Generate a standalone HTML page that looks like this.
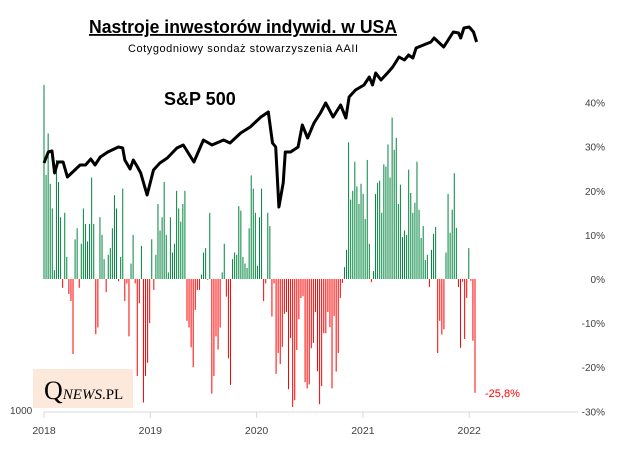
<!DOCTYPE html>
<html><head><meta charset="utf-8"><style>
body{margin:0;background:#fff;width:619px;height:446px;overflow:hidden;font-family:"Liberation Sans",sans-serif}
</style></head><body>
<svg width="619" height="446" xmlns="http://www.w3.org/2000/svg">
<text x="243" y="33" text-anchor="middle" font-size="18" font-weight="bold" textLength="308" lengthAdjust="spacingAndGlyphs" text-decoration="underline">Nastroje inwestorów indywid. w USA</text>
<text x="243" y="52" text-anchor="middle" font-size="11" textLength="230">Cotygodniowy  sondaż stowarzyszenia AAII</text>
<text x="164" y="105" font-size="18" font-weight="bold">S&amp;P 500</text>
<rect x="33" y="369" width="100" height="39" fill="#fde9dc"/>
<text x="44" y="399" font-family="Liberation Serif,serif"><tspan font-size="26">Q</tspan><tspan font-size="15" font-style="italic">NEWS</tspan><tspan font-size="15">.PL</tspan></text>
<text x="10" y="414" font-size="10" fill="#404040">1000</text>
<g id="bars"></g>
<g id="axes"></g>
<polyline id="sp" fill="none" stroke="#000" stroke-width="3" stroke-linejoin="round"/>
</svg>
<script>
const spread=[44,23.6,33,21.6,16,2,27,22,14,-2,15,5,-3.4,-5,-17,9,11.5,-2,8,16,12.5,8.5,12.5,23,12.5,-12.5,-11,14,10,4.5,-3,5.5,7,11.5,19,16,-0.5,5,20.5,-5,-1,-13,3.5,10,-1,-22,-5.5,7.5,-28,-22,-19,-10,9,-2.5,5.5,17,11,14,22,10,1.5,14,6,8,20,16,13,17,20,-9.5,-11,-15.5,-20,-7,-2.5,-2.5,1,6,7,-0.2,15,-26,-22,-13,-16,-11,1.5,8,-4,-18,-24,4.5,6,5.5,16.5,15.5,5,3.5,2.5,11.5,23.5,20.5,15,3,14,20.5,-5,-1,15,
12,-8.5,-1,-21.5,-16.8,-19.3,-15.4,-7.9,-7.5,-25,-13.4,-29,-27.5,-16.1,-9.1,-4.3,-3.9,-23.4,-24.8,-23.9,-15.7,-14.5,-7.5,-20.9,-28.4,-24.3,-12.3,-12.3,-7.5,-10.9,-24.8,-8.4,-21,-16.8,-4.3,-0.9,2.7,6.6,31,18,20,26.6,21,17,21.6,19.3,13.6,27,8,-0.7,1.8,19.3,21.8,22.3,15,26,25.5,30.5,23,36.6,29.3,32,17,21.4,9.5,11,10,24.8,19.5,15,17.3,26.6,15.7,9.3,12,4.3,5.5,-1.8,6.6,10.2,11.8,-16.8,-9.5,-12.6,-11.4,6,19.3,10.5,15.7,24,11.6,-1.8,-15.6,-0.6,-13.6,-4.3,7,-0.4,-14,-25.8];
const spDates=[2018,2018.04,2018.075,2018.10,2018.13,2018.18,2018.22,2018.27,2018.34,2018.39,2018.44,2018.48,2018.53,2018.60,2018.70,2018.74,2018.76,2018.81,2018.84,2018.88,2018.91,2018.97,2019.03,2019.09,2019.16,2019.25,2019.31,2019.41,2019.50,2019.58,2019.69,2019.75,2019.85,2019.94,2020.04,2020.11,2020.15,2020.18,2020.21,2020.25,2020.27,2020.32,2020.39,2020.43,2020.48,2020.54,2020.60,2020.65,2020.72,2020.79,2020.84,2020.87,2020.93,2021.01,2021.06,2021.09,2021.12,2021.17,2021.24,2021.28,2021.34,2021.39,2021.43,2021.47,2021.50,2021.57,2021.64,2021.67,2021.72,2021.76,2021.85,2021.90,2021.92,2021.95,2022.00,2022.04,2022.07];
const spValues=[2700,2870,2885,2546,2715,2715,2484,2561,2669,2669,2762,2669,2793,2870,2947,2932,2746,2607,2746,2638,2546,2206,2592,2700,2777,2932,2978,2715,3055,2978,3055,3009,3163,3256,3410,3487,3009,2947,2021,2391,2870,2870,2947,3287,3086,3318,3472,3626,3410,3596,3395,3719,3827,3904,4028,3904,4090,3982,4105,4182,4337,4290,4368,4321,4476,4522,4568,4630,4553,4491,4723,4707,4630,4784,4800,4723,4568];
const yTicks=[40,30,20,10,0,-10,-20,-30];
const years=[2018,2019,2020,2021,2022];
const NS='http://www.w3.org/2000/svg';
const yP=v=>279-v*4.41;
const xBar=i=>44+i*(431/(spread.length-1));
const xYear=y=>44+(y-2018)*106.3;
const ySp=v=>163-(v-2700)/15.44;
const bars=document.getElementById('bars');
spread.forEach((v,i)=>{
 const r=document.createElementNS(NS,'rect');
 r.setAttribute('x',(xBar(i)-0.5).toFixed(2));
 r.setAttribute('width','1');
 r.setAttribute('y',Math.min(yP(v),yP(0)).toFixed(2));
 r.setAttribute('height',Math.abs(yP(v)-yP(0)).toFixed(2));
 r.setAttribute('fill',v>=0?'#00853e':'#ff0000');
 
 
 bars.appendChild(r);
});
const ax=document.getElementById('axes');
yTicks.forEach(t=>{
 const tx=document.createElementNS(NS,'text');
 tx.setAttribute('x','605');tx.setAttribute('y',(yP(t)+4).toFixed(1));
 tx.setAttribute('text-anchor','end');tx.setAttribute('font-size','10');tx.setAttribute('fill','#404040');
 tx.textContent=t+'%';
 
 
 ax.appendChild(tx);
});
const base=document.createElementNS(NS,'line');
base.setAttribute('x1','44');base.setAttribute('x2','578');base.setAttribute('y1','412');base.setAttribute('y2','412');
base.setAttribute('stroke','#d9d9d9');base.setAttribute('stroke-width','1');


ax.appendChild(base);
years.forEach(y=>{
 const x=xYear(y);
 const l=document.createElementNS(NS,'line');
 l.setAttribute('x1',x);l.setAttribute('x2',x);l.setAttribute('y1','412');l.setAttribute('y2','418');l.setAttribute('stroke','#d9d9d9');
 
 
 ax.appendChild(l);
 const tx=document.createElementNS(NS,'text');
 tx.setAttribute('x',x);tx.setAttribute('y','434');tx.setAttribute('text-anchor','middle');tx.setAttribute('font-size','10.5');tx.setAttribute('fill','#404040');
 tx.textContent=y;
 
 
 ax.appendChild(tx);
});
const last=spread[spread.length-1];
const lt=document.createElementNS(NS,'text');
lt.setAttribute('x',(xBar(spread.length-1)+10).toFixed(1));lt.setAttribute('y',(yP(last)+4).toFixed(1));
lt.setAttribute('font-size','11');lt.setAttribute('fill','#ff0000');
lt.textContent=last.toFixed(1).replace('.',',')+'%';


ax.appendChild(lt);
document.getElementById('sp').setAttribute('points',spDates.map((d,i)=>xYear(d).toFixed(1)+','+ySp(spValues[i]).toFixed(1)).join(' '));
</script>
</body></html>
